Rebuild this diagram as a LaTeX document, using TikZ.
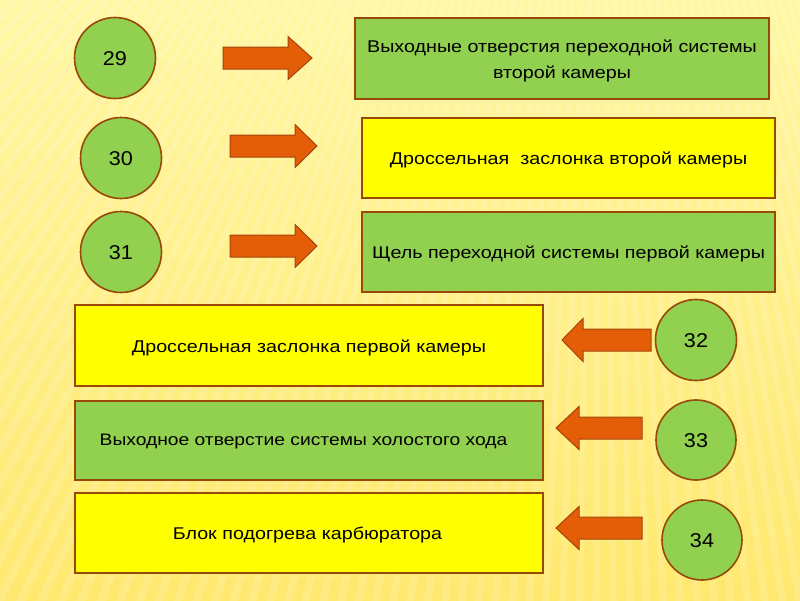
\documentclass[tikz,border=0pt]{standalone}
\usepackage{fontspec}
\setmainfont{Liberation Sans}
\newfontfamily\boxfont[FakeStretch=1.16]{Liberation Sans}
\newfontfamily\numfont[FakeStretch=1.08]{Liberation Sans}
\definecolor{bgtop}{RGB}{255,247,165}
\definecolor{bgbot}{RGB}{255,232,110}
\definecolor{boxgreen}{RGB}{146,208,80}
\definecolor{boxyellow}{RGB}{255,255,0}
\definecolor{edgebrown}{RGB}{152,72,7}
\definecolor{arrfill}{RGB}{228,94,8}
\definecolor{arredge}{RGB}{165,68,10}
\newcommand\rightarr[4]{% tail x, head base x, tip x, centre y
  \draw[arrshape] (#1,#4-11) -- (#2,#4-11) -- (#2,#4-21.5) -- (#3,#4) -- (#2,#4+21.5) -- (#2,#4+11) -- (#1,#4+11) -- cycle;}
\tikzset{
  numcirc/.style={circle, draw=edgebrown, line width=1.6pt, fill=boxgreen, minimum size=81pt, inner sep=0pt},
  numtext/.style={inner sep=0pt, font=\numfont\fontsize{20}{20}\selectfont},
  gbox/.style={rectangle, draw=edgebrown, line width=1.6pt, fill=boxgreen, inner sep=0pt},
  ybox/.style={gbox, fill=boxyellow},
  boxtext/.style={inner sep=0pt, align=center, font=\boxfont\fontsize{17}{26}\selectfont},
  arrshape/.style={fill=arrfill, draw=arredge, line width=1pt, line join=miter},
  ray/.style={white, opacity=0.15},
}
\begin{document}
\begin{tikzpicture}[x=1pt,y=-1pt]
\useasboundingbox (0,0) rectangle (800,600);
\shade[top color=bgtop, bottom color=bgbot] (0,0) rectangle (800,600);
\begin{scope}
\clip (0,0) rectangle (800,600);
\coordinate (raycentre) at (600,-600);
\foreach \a in {66,66.8,...,140}
  \fill[ray] (raycentre) -- +(\a:1600) -- +(\a+0.35:1600) -- cycle;
\end{scope}

% top rows
\node[numcirc] (n29) at (115,58) {};
\node[numcirc] (n30) at (121,158) {};
\node[numcirc] (n31) at (121,252) {};
\node[numtext] (l29) at (115,59) {29};
\node[numtext] (l30) at (121,159) {30};
\node[numtext] (l31) at (121,253) {31};
\node[gbox, minimum width=414pt, minimum height=81pt] (b29) at (562,58.5) {};
\node[ybox, minimum width=413pt, minimum height=80pt] (b30) at (568.5,158) {};
\node[gbox, minimum width=413pt, minimum height=80pt] (b31) at (568.5,252) {};
\node[boxtext] (t29) at (562,61) {Выходные отверстия переходной системы\\второй камеры};
\node[boxtext] (t30) at (568.5,160) {Дроссельная\ \ заслонка второй камеры};
\node[boxtext] (t31) at (568.5,254) {Щель переходной системы первой камеры};
\rightarr{223}{288}{312}{58}
\rightarr{230}{295}{317}{146}
\rightarr{230}{295}{317}{246}

% bottom rows
\node[ybox, minimum width=468pt, minimum height=81pt] (b32) at (309,345.5) {};
\node[gbox, minimum width=468pt, minimum height=79pt] (b33) at (309,440.5) {};
\node[ybox, minimum width=468pt, minimum height=80pt] (b34) at (309,533) {};
\node[boxtext] (t32) at (309,347.5) {Дроссельная заслонка первой камеры};
\node[boxtext, font=\boxfont\fontsize{16.6}{26}\selectfont] (t33) at (303.5,442) {Выходное отверстие системы холостого хода};
\node[boxtext] (t34) at (307.5,535) {Блок подогрева карбюратора};
\node[numcirc] (n32) at (696,340) {};
\node[numcirc, minimum size=80pt] (n33) at (696,440) {};
\node[numcirc, minimum size=80pt] (n34) at (702,540) {};
\node[numtext] (l32) at (696,341) {32};
\node[numtext] (l33) at (696,441) {33};
\node[numtext] (l34) at (702,541) {34};
\rightarr{651}{583}{562}{340}
\rightarr{642}{579}{556}{428}
\rightarr{642}{579}{556}{528}
\end{tikzpicture}
\end{document}
